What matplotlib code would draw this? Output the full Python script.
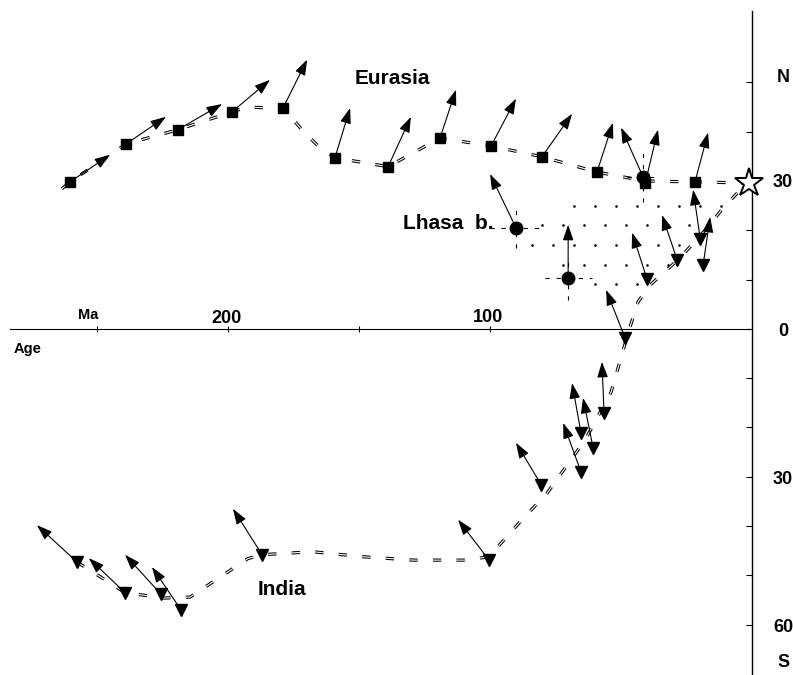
import matplotlib
matplotlib.use('Agg')
import matplotlib.pyplot as plt
import numpy as np
from matplotlib import font_manager
from matplotlib.path import Path

# Eurasia reference poles: age (Ma), palaeolatitude, and tip of declination arrow
eur_age = [260.3, 238.9, 219.1, 198.5, 179.0, 159.2, 138.9, 119.1, 99.6, 80.2, 59.2, 40.8, 21.8]
eur_lat = [29.8, 37.5, 40.4, 44.0, 44.8, 34.7, 32.9, 38.7, 37.1, 34.9, 31.8, 29.6, 29.8]
eur_tip_age = [245.0, 223.7, 202.3, 184.0, 169.8, 153.4, 130.2, 113.0, 90.1, 68.7, 53.1, 35.9, 16.8]
eur_tip_lat = [35.3, 43.0, 45.6, 50.5, 54.6, 44.8, 43.0, 48.5, 46.7, 43.6, 41.8, 40.4, 39.8]

# trend through the Eurasia points
eur_path_age = [263.4, 260.3, 238.9, 219.1, 198.5, 192.7, 184.0, 179.0, 171.8, 164.9, 159.2,
                138.9, 119.1, 99.6, 80.2, 59.2, 40.8, 21.8, 2.7]
eur_path_lat = [28.4, 29.8, 37.5, 40.4, 44.0, 45.0, 44.8, 44.8, 40.4, 36.7, 34.7,
                32.9, 38.7, 37.1, 34.9, 31.8, 30.0, 29.8, 29.6]

# India poles
ind_age = [257.6, 239.3, 225.6, 217.9, 187.0, 100.4, 80.5, 65.3, 60.7, 65.3, 56.5, 48.5,
           40.1, 28.6, 19.8, 18.7]
ind_lat = [-47.3, -53.5, -53.8, -57.0, -45.8, -46.9, -31.6, -29.0, -24.1, -21.1, -17.0, -1.8,
           10.1, 14.0, 18.3, 13.0]
ind_tip_age = [272.9, 253.1, 239.3, 229.0, 198.1, 112.2, 90.1, 72.1, 64.5, 68.7, 57.3, 55.7,
               45.8, 34.4, 22.5, 16.0]
ind_tip_lat = [-39.8, -46.5, -45.8, -48.3, -36.5, -38.7, -23.1, -19.1, -14.0, -11.0, -6.7, 7.9,
               19.5, 23.1, 28.2, 22.7]

ind_path_age = [257.6, 246.9, 239.3, 232.4, 224.5, 214.5, 192.4, 187.0, 167.6, 148.9, 129.4,
                108.8, 100.4, 87.8, 78.2, 63.7, 53.8, 47.3, 43.5, 38.9, 27.5, 16.8, 11.1, 2.7]
ind_path_lat = [-47.3, -50.9, -53.5, -54.0, -54.6, -54.4, -46.6, -45.8, -45.2, -46.2, -46.9,
                -46.9, -46.2, -38.7, -33.3, -22.5, -12.8, -0.8, 5.5, 8.9, 14.4, 20.7, 24.5, 29.2]

# Lhasa block poles with error ranges
lhasa_age = [90.1, 70.2, 41.6]
lhasa_lat = [20.5, 10.3, 30.8]
lhasa_age_err = [10, 9, 6]
lhasa_lat_err = [4, 4.5, 5]
lhasa_tip_age = [100.0, 70.2, 50.0]
lhasa_tip_lat = [31.4, 21.1, 40.8]

# present-day position
star_age = [1.1]
star_lat = [29.6]

# outline of the dotted area
zone_age = [90.1, 73.3, 56.1, 38.9, 23.7, 12.2, 4.6, 42.7, 58.0, 79.0]
zone_lat = [20.5, 9.5, 7.9, 8.9, 16.0, 24.1, 28.0, 28.0, 27.5, 23.1]

age_ticks = [250, 200, 150, 100]
lat_ticks = [50, 40, 30, 20, 10, 0, -10, -20, -30, -40, -50, -60]

installed = {f.name for f in font_manager.fontManager.ttflist}
if 'Liberation Sans Narrow' in installed:
    num_font = 'Liberation Sans Narrow'
else:
    num_font = 'Liberation Sans'
plt.rcParams['font.family'] = 'Liberation Sans'
plt.rcParams['lines.scale_dashes'] = False

fig = plt.figure(figsize=(7.93, 6.75), dpi=100)
ax = fig.add_axes([0, 0, 1, 1])
ax.set_xlim(287.0, -15.6)
ax.set_ylim(-70.2, 66.7)
ax.axis('off')


def double_dash(xs, ys):
    ax.plot(xs, ys, color='black', lw=2.3, dashes=(6, 11), zorder=1, dash_capstyle='butt')
    ax.plot(xs, ys, color='white', lw=0.8, dashes=(6, 11), zorder=1.1, dash_capstyle='butt')


def arrows(xs, ys, txs, tys):
    for x0, y0, x1, y1 in zip(xs, ys, txs, tys):
        ax.annotate('', xy=(x1, y1), xytext=(x0, y0),
                    arrowprops=dict(arrowstyle='-|>,head_length=0.95,head_width=0.33',
                                    mutation_scale=10, lw=0.8, color='black',
                                    shrinkA=0, shrinkB=0), zorder=2)


# axes
ax.plot([283, 0], [0, 0], color='black', lw=0.8, zorder=0.5)
ax.plot([0, 0], [-72, 64.5], color='black', lw=1.0, zorder=0.5)
ax.plot(age_ticks, [0] * len(age_ticks), '|', color='black', ms=5, mew=0.8)
ax.hlines(lat_ticks, 0, 2.4, color='black', lw=0.8)

# dotted area
zone = Path(np.column_stack([zone_age, zone_lat]))
gx, gy = np.meshgrid(np.arange(0, 100, 8.0), np.arange(5, 32, 4.0))
gx = gx + (np.arange(gx.shape[0])[:, None] % 2) * 4.0
pts = np.column_stack([gx.ravel(), gy.ravel()])
inside = zone.contains_points(pts)
ax.scatter(pts[inside, 0], pts[inside, 1], s=3.5, color='black', lw=0, zorder=0.8)

# trend lines
double_dash(eur_path_age, eur_path_lat)
double_dash(ind_path_age, ind_path_lat)

# Lhasa error crosses
for a, l, ea, el in zip(lhasa_age, lhasa_lat, lhasa_age_err, lhasa_lat_err):
    ax.plot([a + ea, a - ea], [l, l], color='black', lw=0.8, dashes=(3, 5), zorder=1.5)
    ax.plot([a, a], [l - el, l + el], color='black', lw=0.8, dashes=(3, 5), zorder=1.5)

arrows(eur_age, eur_lat, eur_tip_age, eur_tip_lat)
arrows(ind_age, ind_lat, ind_tip_age, ind_tip_lat)
arrows(lhasa_age, lhasa_lat, lhasa_tip_age, lhasa_tip_lat)

ax.plot(eur_age, eur_lat, 's', color='black', ms=7, zorder=3)
ax.plot(ind_age, ind_lat, 'v', color='black', ms=8, zorder=3)
ax.plot(lhasa_age, lhasa_lat, 'o', color='black', ms=9, zorder=3)
ax.plot(star_age, star_lat, '*', mfc='white', mec='black', mew=1.4, ms=21, zorder=4)

# labels
ax.text(137.2, 50.7, 'Eurasia', fontsize=15, fontweight='bold', ha='center', va='center')
ax.text(133.2, 21.3, 'Lhasa  b.', fontsize=15, fontweight='bold', ha='left', va='center')
ax.text(179.4, -52.9, 'India', fontsize=15, fontweight='bold', ha='center', va='center')
ax.text(253.4, 2.8, 'Ma', fontsize=10.5, fontweight='bold', ha='center', va='center')
ax.text(276.3, -4.1, 'Age', fontsize=10.5, fontweight='bold', ha='center', va='center')
ax.text(200.5, 2.2, '200', family=num_font, fontsize=13, fontweight='bold', ha='center', va='center')
ax.text(100.8, 2.4, '100', family=num_font, fontsize=13, fontweight='bold', ha='center', va='center')

right_lat = [50.9, 29.6, -0.6, -30.6, -60.6, -67.7]
right_txt = ['N', '30', '0', '30', '60', 'S']
for l, t in zip(right_lat, right_txt):
    ax.text(-11.8, l, t, family=num_font, fontsize=13, fontweight='bold', ha='center', va='center')

fig.savefig('out.png', dpi=100)
